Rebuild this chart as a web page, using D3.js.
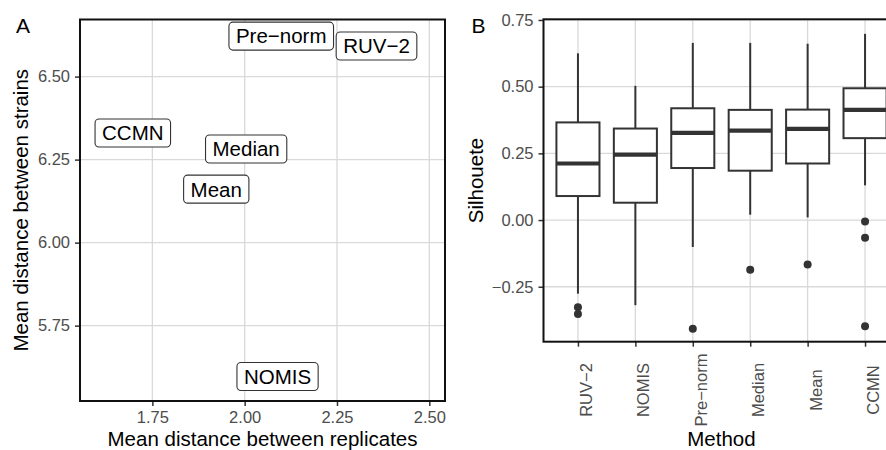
<!DOCTYPE html>
<html>
<head>
<meta charset="utf-8">
<script src="https://cdn.jsdelivr.net/npm/d3@7"></script>
<style>
  body { margin: 0; background: #fff; }
  svg { font-family: "Liberation Sans", Arial, sans-serif; display: block; }
  .tick text { fill: #4d4d4d; font-size: 16.5px; }
  .tick line { stroke: #333; stroke-width: 1.5; }
  .grid line { stroke: #d9d9d9; stroke-width: 1.3; }
  .title { font-size: 20.5px; fill: #000; }
</style>
</head>
<body>
<div id="chart"></div>
<script>
// methods, in the order of panel B
var methods = ["RUV-2", "NOMIS", "Pre-norm", "Median", "Mean", "CCMN"];

// panel A: mean distances per method
var replicateDist = [2.357, 2.089, 2.099, 2.004, 1.923, 1.697];
var strainDist = [6.592, 5.597, 6.622, 6.282, 6.161, 6.330];
var xTicksA = [1.75, 2.00, 2.25, 2.50];
var yTicksA = [5.75, 6.00, 6.25, 6.50];

// panel B: silhouette box stats
var whiskerHigh = [0.625, 0.503, 0.664, 0.664, 0.661, 0.698];
var q3 = [0.366, 0.343, 0.419, 0.413, 0.414, 0.494];
var medians = [0.212, 0.245, 0.327, 0.335, 0.342, 0.413];
var q1 = [0.090, 0.065, 0.195, 0.185, 0.212, 0.307];
var whiskerLow = [-0.276, -0.319, -0.101, 0.020, 0.010, 0.130];
var outliers = [[-0.327, -0.352], [], [-0.407], [-0.186], [-0.167], [-0.005, -0.066, -0.398]];
var yTicksB = [-0.25, 0.00, 0.25, 0.50, 0.75];

var W = 886, H = 450;
var svg = d3.select("#chart").append("svg")
    .attr("width", W)
    .attr("height", H);

var fmt = d3.format(".2f");
var dash = function (s) { return s.replace("-", "\u2212"); };

// ---------- Panel A ----------
var a = { left: 80, right: 445, top: 19.5, bottom: 401 };
var xA = d3.scaleLinear().domain([1.554, 2.5425]).range([a.left, a.right]);
var yA = d3.scaleLinear().domain([5.523, 6.672]).range([a.bottom, a.top]);

var gA = svg.append("g");

gA.append("g").attr("class", "grid")
    .selectAll("line").data(xTicksA).enter().append("line")
    .attr("x1", xA).attr("x2", xA)
    .attr("y1", a.top).attr("y2", a.bottom);
gA.append("g").attr("class", "grid")
    .selectAll("line").data(yTicksA).enter().append("line")
    .attr("y1", yA).attr("y2", yA)
    .attr("x1", a.left).attr("x2", a.right);

var xAxisA = d3.axisBottom(xA).tickValues(xTicksA).tickFormat(fmt).tickSize(5).tickPadding(5);
var yAxisA = d3.axisLeft(yA).tickValues(yTicksA).tickFormat(fmt).tickSize(5).tickPadding(5);

gA.append("g").attr("transform", "translate(0," + a.bottom + ")")
    .call(xAxisA).call(function (g) { g.select(".domain").remove(); });
gA.append("g").attr("transform", "translate(" + a.left + ",0)")
    .call(yAxisA).call(function (g) { g.select(".domain").remove(); });

// labels (geom_label style)
var labA = gA.selectAll(".lab").data(methods).enter().append("g")
    .attr("class", "lab")
    .attr("transform", function (d, i) {
        return "translate(" + xA(replicateDist[i]) + "," + yA(strainDist[i]) + ")";
    });
labA.append("rect");
labA.append("text")
    .attr("text-anchor", "middle")
    .attr("dy", "0.36em")
    .style("font-size", "20.5px")
    .text(function (d) { return dash(d); });
labA.each(function () {
    var g = d3.select(this);
    var w = g.select("text").node().getComputedTextLength();
    g.select("rect")
        .attr("x", -w / 2 - 7).attr("y", -14)
        .attr("width", w + 14).attr("height", 28)
        .attr("rx", 4)
        .attr("fill", "#fff").attr("stroke", "#333").attr("stroke-width", 1.1);
});

gA.append("rect")
    .attr("x", a.left).attr("y", a.top)
    .attr("width", a.right - a.left).attr("height", a.bottom - a.top)
    .attr("fill", "none").attr("stroke", "#111").attr("stroke-width", 2);

gA.append("text").attr("class", "title")
    .attr("x", (a.left + a.right) / 2).attr("y", 445.5)
    .attr("text-anchor", "middle")
    .text("Mean distance between replicates");
gA.append("text").attr("class", "title")
    .attr("transform", "translate(28," + (a.top + a.bottom) / 2 + ") rotate(-90)")
    .attr("text-anchor", "middle")
    .text("Mean distance between strains");
gA.append("text")
    .attr("x", 16).attr("y", 33)
    .style("font-size", "21px")
    .text("A");

// ---------- Panel B ----------
var b = { left: 543.5, right: 899.5, top: 19.3, bottom: 341.7 };
var xB = d3.scalePoint().domain(methods).range([b.left, b.right]).padding(0.6);
var yB = d3.scaleLinear().domain([-0.456, 0.7525]).range([b.bottom, b.top]);
var boxW = xB.step() * 0.75;

var gB = svg.append("g");

gB.append("g").attr("class", "grid")
    .selectAll("line").data(methods).enter().append("line")
    .attr("x1", xB).attr("x2", xB)
    .attr("y1", b.top).attr("y2", b.bottom);
gB.append("g").attr("class", "grid")
    .selectAll("line").data(yTicksB).enter().append("line")
    .attr("y1", yB).attr("y2", yB)
    .attr("x1", b.left).attr("x2", b.right);

var yAxisB = d3.axisLeft(yB).tickValues(yTicksB).tickFormat(fmt).tickSize(5).tickPadding(5);
gB.append("g").attr("transform", "translate(" + b.left + ",0)")
    .call(yAxisB).call(function (g) { g.select(".domain").remove(); });

var xAxisB = d3.axisBottom(xB).tickSize(5).tickFormat(function (d) { return ""; });
gB.append("g").attr("transform", "translate(0," + b.bottom + ")")
    .call(xAxisB).call(function (g) { g.select(".domain").remove(); });

gB.selectAll(".xlab").data(methods).enter().append("text")
    .attr("class", "xlab")
    .attr("transform", function (d) { return "translate(" + (xB(d) + 14) + ",390) rotate(-90)"; })
    .attr("text-anchor", "middle")
    .style("font-size", "16.5px")
    .attr("fill", "#4d4d4d")
    .text(function (d) { return dash(d); });

var boxes = gB.selectAll(".box").data(methods).enter().append("g").attr("class", "box");
boxes.append("line")
    .attr("x1", xB).attr("x2", xB)
    .attr("y1", function (d, i) { return yB(whiskerHigh[i]); })
    .attr("y2", function (d, i) { return yB(q3[i]); })
    .attr("stroke", "#333").attr("stroke-width", 2);
boxes.append("line")
    .attr("x1", xB).attr("x2", xB)
    .attr("y1", function (d, i) { return yB(q1[i]); })
    .attr("y2", function (d, i) { return yB(whiskerLow[i]); })
    .attr("stroke", "#333").attr("stroke-width", 2);
boxes.append("rect")
    .attr("x", function (d) { return xB(d) - boxW / 2; })
    .attr("width", boxW)
    .attr("y", function (d, i) { return yB(q3[i]); })
    .attr("height", function (d, i) { return yB(q1[i]) - yB(q3[i]); })
    .attr("fill", "#fff").attr("stroke", "#333").attr("stroke-width", 2);
boxes.append("line")
    .attr("x1", function (d) { return xB(d) - boxW / 2; })
    .attr("x2", function (d) { return xB(d) + boxW / 2; })
    .attr("y1", function (d, i) { return yB(medians[i]); })
    .attr("y2", function (d, i) { return yB(medians[i]); })
    .attr("stroke", "#333").attr("stroke-width", 4.2);
boxes.each(function (d, i) {
    d3.select(this).selectAll("circle").data(outliers[i]).enter().append("circle")
        .attr("cx", xB(d))
        .attr("cy", function (v) { return yB(v); })
        .attr("r", 4)
        .attr("fill", "#333");
});

gB.append("rect")
    .attr("x", b.left).attr("y", b.top)
    .attr("width", b.right - b.left).attr("height", b.bottom - b.top)
    .attr("fill", "none").attr("stroke", "#111").attr("stroke-width", 2);

gB.append("text").attr("class", "title")
    .attr("x", (b.left + b.right) / 2).attr("y", 445.5)
    .attr("text-anchor", "middle")
    .text("Method");
gB.append("text").attr("class", "title")
    .attr("transform", "translate(482.5," + (b.top + b.bottom) / 2 + ") rotate(-90)")
    .attr("text-anchor", "middle")
    .text("Silhouete");
gB.append("text")
    .attr("x", 471.5).attr("y", 33)
    .style("font-size", "21px")
    .text("B");
</script>
</body>
</html>
